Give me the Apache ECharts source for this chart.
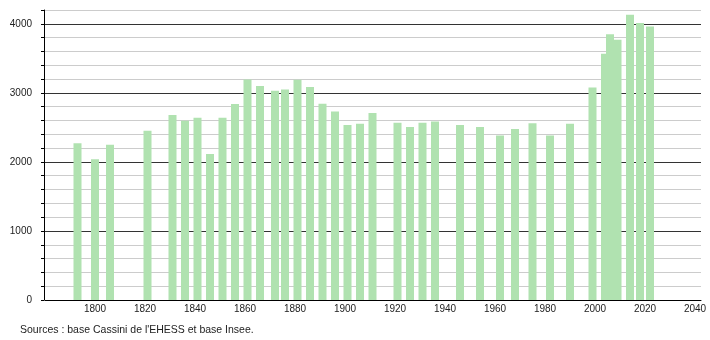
<!DOCTYPE html>
<html><head><meta charset="utf-8">
<script src="https://cdn.jsdelivr.net/npm/echarts@6/dist/echarts.min.js"></script>
<style>html,body{margin:0;padding:0;background:#fff}#c{width:710px;height:340px}</style>
</head><body><div id="c"></div>
<script>
const years = [1793,1800,1806,1821,1831,1836,1841,1846,1851,1856,1861,1866,1872,1876,1881,1886,1891,1896,1901,1906,1911,1921,1926,1931,1936,1946,1954,1962,1968,1975,1982,1990,1999,2004,2006,2009,2014,2018,2022];
const population = [2270,2040,2250,2450,2680,2595,2640,2115,2640,2840,3195,3100,3030,3050,3190,3085,2842,2730,2536,2551,2710,2568,2507,2568,2585,2536,2507,2382,2478,2560,2382,2551,3077,3565,3850,3768,4130,4010,3962];
const yTickLabels = [0,1000,2000,3000,4000];
const xTickLabels = [1800,1820,1840,1860,1880,1900,1920,1940,1960,1980,2000,2020,2040];
const sourceText = "Sources : base Cassini de l'EHESS et base Insee.";

const chart = echarts.init(document.getElementById('c'), null, {renderer:'canvas'});
const font = 'Liberation Sans, Arial, sans-serif';
chart.setOption({
  animation:false,
  grid:{left:45, right:9, top:10, bottom:40},
  xAxis:{
    type:'value', min:1780, max:2042.4, interval:20,
    axisLine:{show:true, onZero:false, lineStyle:{color:'#000', width:1}},
    axisTick:{show:false},
    splitLine:{show:false},
    axisLabel:{
      margin:4, color:'#222', fontSize:10, fontFamily:font,
      showMinLabel:true, showMaxLabel:true,
      formatter:function(v){ return xTickLabels.indexOf(Math.round(v))>=0 && Math.abs(v-Math.round(v))<1e-6 ? String(Math.round(v)) : ''; }
    }
  },
  yAxis:{
    type:'value', min:0, max:4200, interval:200, offset:1,
    axisLine:{show:true, lineStyle:{color:'#000', width:1}},
    axisTick:{show:true, length:3, lineStyle:{color:'#000'}},
    splitLine:{show:true, lineStyle:{color:['#333','#ccc','#ccc','#ccc','#ccc'], width:1}},
    axisLabel:{
      margin:12, color:'#222', fontSize:10, fontFamily:font, interval:0,
      formatter:function(v){ return yTickLabels.indexOf(v)>=0 ? String(v) : ''; }
    }
  },
  series:[{
    type:'bar', barWidth:8,
    itemStyle:{color:'#b0e2b0'},
    data: years.map((y,i)=>[y, population[i]])
  }],
  graphic:[{
    type:'text', left:20, top:325,
    style:{text:sourceText, fill:'#222', font:'10.5px '+font}
  }]
});
</script>
</body></html>
